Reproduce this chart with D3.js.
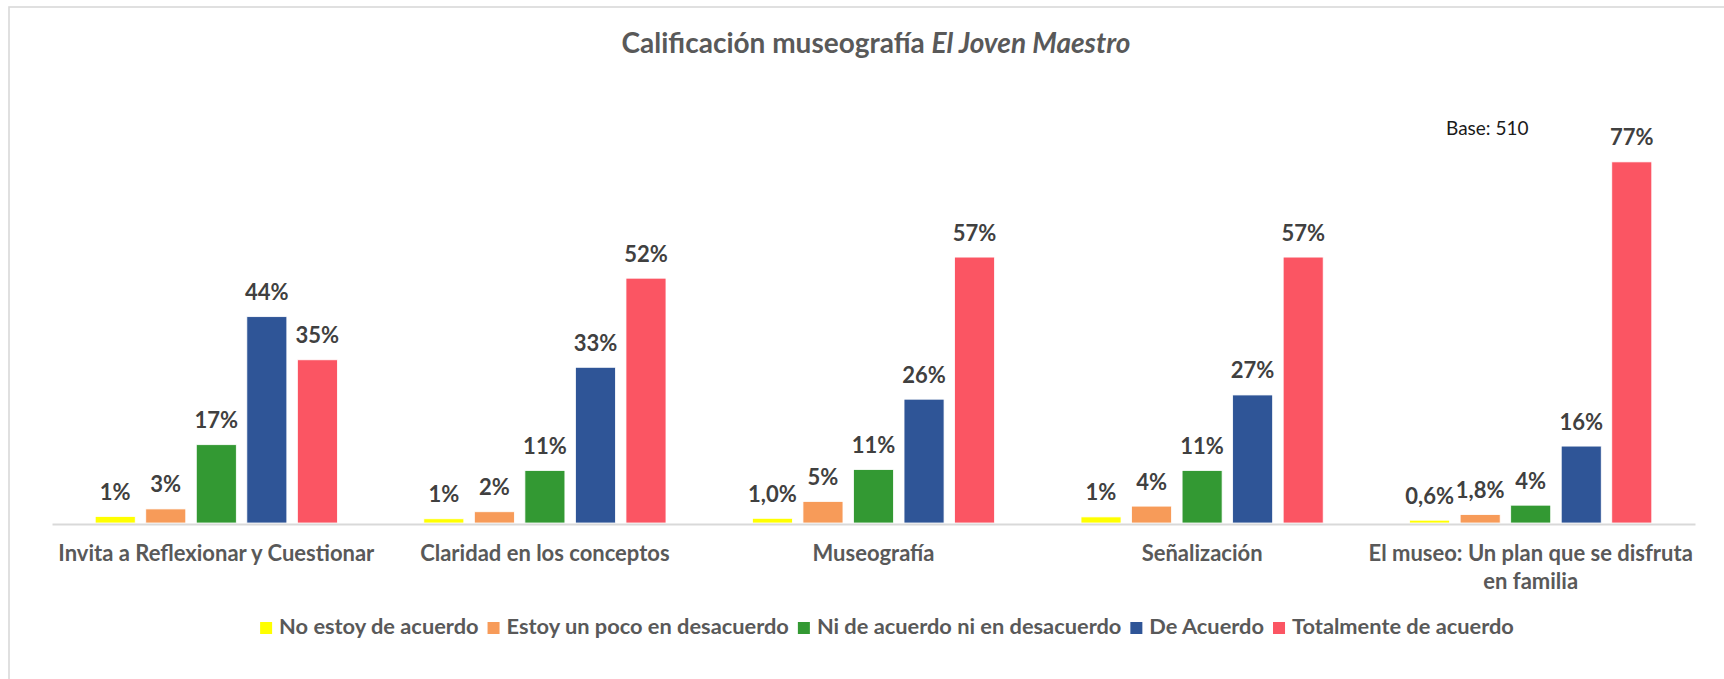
<!DOCTYPE html>
<html lang="es">
<head>
<meta charset="utf-8">
<script src="https://cdn.jsdelivr.net/npm/d3@7"></script>
<style>
  html, body { margin: 0; padding: 0; background: #ffffff; }
  svg { display: block; font-family: Lato, "Open Sans", sans-serif; }
</style>
</head>
<body>
<svg id="chart" width="1724" height="679"></svg>
<script>
// Categories rated in the survey
const categories = [
  "Invita a Reflexionar y Cuestionar",
  "Claridad en los conceptos",
  "Museografía",
  "Señalización",
  "El museo: Un plan que se disfruta en familia"
];

// Answer options (series) and their colours
const seriesNames = [
  "No estoy de acuerdo",
  "Estoy un poco en desacuerdo",
  "Ni de acuerdo ni en desacuerdo",
  "De Acuerdo",
  "Totalmente de acuerdo"
];
const seriesColors = ["#FFFF00", "#F79B59", "#339933", "#2F5597", "#FB5563"];

// Percentages per series, one value per category
const noEstoyDeAcuerdo     = [1.4, 0.9, 1.0, 1.3, 0.6];
const pocoEnDesacuerdo     = [3.0, 2.4, 4.6, 3.6, 1.8];
const niDeAcuerdoNiEnDes   = [16.7, 11.2, 11.4, 11.2, 3.8];
const deAcuerdo            = [44.0, 33.2, 26.4, 27.3, 16.4];
const totalmenteDeAcuerdo  = [34.8, 52.2, 56.7, 56.7, 77.0];

// Decimal places shown in each value label
const noEstoyDecimals   = [0, 0, 1, 0, 1];
const pocoDecimals      = [0, 0, 0, 0, 1];
const niDecimals        = [0, 0, 0, 0, 0];
const deAcuerdoDecimals = [0, 0, 0, 0, 0];
const totalDecimals     = [0, 0, 0, 0, 0];

const seriesValues = [noEstoyDeAcuerdo, pocoEnDesacuerdo, niDeAcuerdoNiEnDes, deAcuerdo, totalmenteDeAcuerdo];
const seriesDecimals = [noEstoyDecimals, pocoDecimals, niDecimals, deAcuerdoDecimals, totalDecimals];

const baseNote = "Base: 510";

// Spanish number formatting (decimal comma)
const locale = d3.formatLocale({ decimal: ",", thousands: ".", grouping: [3], currency: ["", " €"] });
const fmt = (v, d) => locale.format("." + d + "f")(v) + "%";

const svg = d3.select("#chart");

// Outer chart frame
svg.append("rect")
  .attr("x", 9).attr("y", 7)
  .attr("width", 1800).attr("height", 800)
  .attr("fill", "#ffffff")
  .attr("stroke", "#d9d9d9")
  .attr("stroke-width", 1.6);

// Title
const title = svg.append("text")
  .attr("x", 876).attr("y", 53)
  .attr("text-anchor", "middle")
  .attr("fill", "#595959")
  .attr("font-size", 28)
  .attr("font-weight", 700);
title.append("tspan").text("Calificación museografía ");
title.append("tspan").attr("font-style", "italic").text("El Joven Maestro");

// Scales
const plotLeft = 52, plotRight = 1695, baseY = 523;
const x0 = d3.scaleBand().domain(categories).range([plotLeft, plotRight]).padding(0);
const x1 = d3.scaleBand().domain(seriesNames).range([0, x0.bandwidth()])
  .paddingInner(0.208).paddingOuter(0.855);
const y = d3.scaleLinear().domain([0, 80]).range([baseY, baseY - 80 * 4.69]);

// Bars and value labels
const groups = svg.append("g").selectAll("g")
  .data(categories)
  .join("g")
  .attr("transform", d => `translate(${x0(d)},0)`);

groups.each(function (cat, ci) {
  const g = d3.select(this);
  const rows = seriesNames.map((s, si) => ({
    series: s, color: seriesColors[si],
    value: seriesValues[si][ci], decimals: seriesDecimals[si][ci]
  }));
  g.selectAll("rect")
    .data(rows)
    .join("rect")
    .attr("x", d => x1(d.series))
    .attr("width", x1.bandwidth())
    .attr("y", d => y(d.value))
    .attr("height", d => y(0) - y(d.value))
    .attr("fill", d => d.color)
    .attr("stroke", "#ffffff")
    .attr("stroke-width", 0.8);
  g.selectAll("text")
    .data(rows)
    .join("text")
    .attr("x", d => x1(d.series) + x1.bandwidth() / 2)
    .attr("y", d => y(d.value) - 16.5)
    .attr("text-anchor", "middle")
    .attr("fill", "#404040")
    .attr("font-size", 22)
    .attr("font-weight", 700)
    .text(d => fmt(d.value, d.decimals));
});

// Category axis
const xAxis = svg.append("g")
  .attr("transform", `translate(0,${baseY + 1})`)
  .call(d3.axisBottom(x0).tickSize(0).tickPadding(0));
xAxis.select(".domain").attr("stroke", "#d9d9d9").attr("stroke-width", 2);
xAxis.selectAll(".tick text")
  .attr("fill", "#595959")
  .attr("font-size", 22)
  .attr("font-weight", 700)
  .attr("font-family", "Lato, 'Open Sans', sans-serif")
  .attr("dy", null)
  .attr("y", 0)
  .each(function (d) {
    // wrap long category names onto several lines
    const t = d3.select(this);
    const words = d.split(/\s+/);
    t.text(null);
    const maxW = 345;
    let line = [];
    let lineNo = 0;
    let tspan = t.append("tspan").attr("x", 0).attr("y", 37);
    for (const w of words) {
      line.push(w);
      tspan.text(line.join(" "));
      if (tspan.node().getComputedTextLength() > maxW && line.length > 1) {
        line.pop();
        tspan.text(line.join(" "));
        line = [w];
        lineNo++;
        tspan = t.append("tspan").attr("x", 0).attr("y", 37 + lineNo * 28.3).text(w);
      }
    }
  });

// Sample size note
svg.append("text")
  .attr("x", 1446).attr("y", 135)
  .attr("fill", "#1a1a1a")
  .attr("font-size", 19)
  .text(baseNote);

// Legend
const legend = svg.append("g");
let cursor = 0;
seriesNames.forEach((name, i) => {
  const item = legend.append("g").attr("transform", `translate(${cursor},0)`);
  item.append("rect")
    .attr("x", 0).attr("y", -12)
    .attr("width", 12).attr("height", 12)
    .attr("fill", seriesColors[i]);
  const txt = item.append("text")
    .attr("x", 19).attr("y", 0)
    .attr("fill", "#595959")
    .attr("font-size", 21.8)
    .attr("font-weight", 700)
    .text(name);
  cursor += 19 + txt.node().getComputedTextLength() + 9;
});
const legendW = cursor - 9;
legend.attr("transform", `translate(${887 - legendW / 2},634)`);
</script>
</body>
</html>
